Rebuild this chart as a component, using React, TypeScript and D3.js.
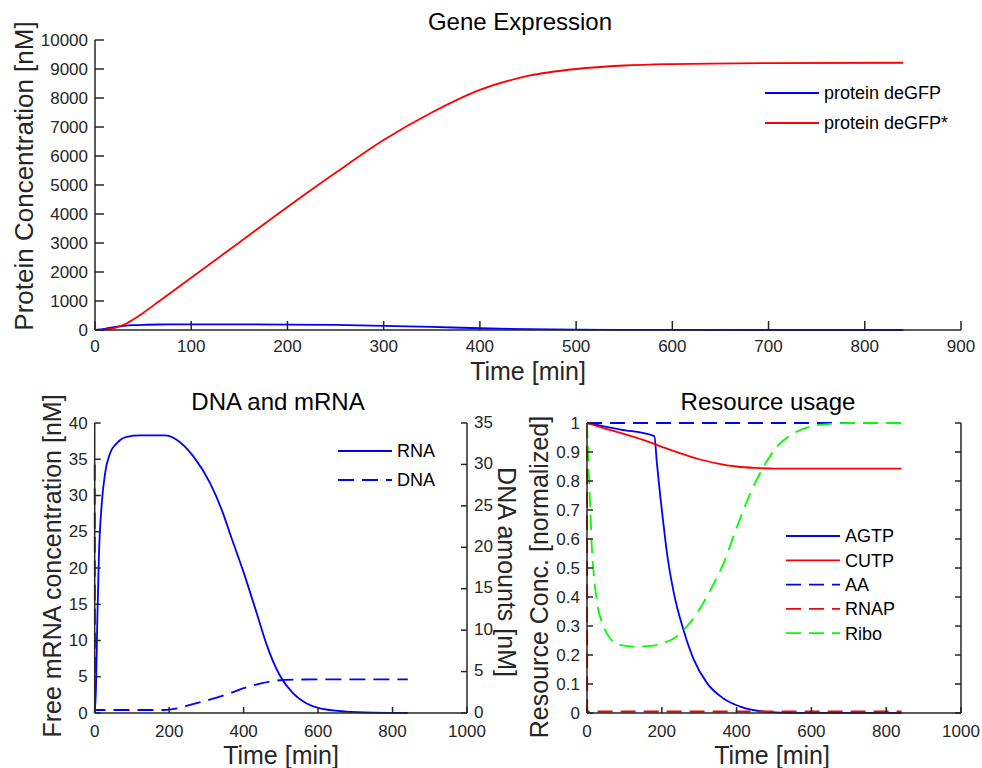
import React from 'react';
import * as d3 from 'd3';

const FONT = '"Liberation Sans", Arial, Helvetica, sans-serif';
const AX = '#262626';
const BLUE = '#0000ff';
const RED = '#ff0000';
const GREEN = '#00ff00';

// Gene Expression
const proteinTime = [0, 10, 20, 30, 40, 50, 67, 100, 150, 200, 250, 300, 350, 400, 450, 500, 550, 600, 700, 840];
const deGFP = [0, 40, 100, 140, 165, 180, 190, 195, 193, 188, 175, 145, 105, 60, 28, 10, 4, 1, 0, 0];
const deGFPStar = [0, 15, 65, 180, 370, 590, 1000, 1800, 3020, 4240, 5420, 6550, 7500, 8280, 8760, 9000, 9120, 9170, 9205, 9215];
const proteinXTicks = [0, 100, 200, 300, 400, 500, 600, 700, 800, 900];
const proteinYTicks = [0, 1000, 2000, 3000, 4000, 5000, 6000, 7000, 8000, 9000, 10000];

// DNA and mRNA
const rnaTime = [0, 3.5, 7, 11.5, 19, 28, 41, 59, 86, 122, 189, 220, 265, 310, 345, 363, 400, 435, 462, 497, 533, 568, 605, 676, 750, 841];
const rna = [0, 3.6, 12.8, 22, 28.9, 33.1, 35.8, 37.2, 38.1, 38.3, 38.3, 37.7, 35.4, 31.7, 27.5, 24.8, 19.4, 13.8, 9.4, 5.2, 2.7, 1.34, 0.64, 0.2, 0.05, 0];
const dnaTime = [0, 1, 100, 185, 220, 256, 300, 336, 370, 400, 450, 497, 550, 600, 700, 841];
const dna = [30, 0.36, 0.36, 0.36, 0.55, 0.97, 1.5, 1.97, 2.5, 3.0, 3.6, 3.95, 4.04, 4.06, 4.07, 4.07];
const timeTicks = [0, 200, 400, 600, 800, 1000];
const rnaTicks = [0, 5, 10, 15, 20, 25, 30, 35, 40];
const dnaTicks = [0, 5, 10, 15, 20, 25, 30, 35];

// Resource usage
const agtpTime = [0, 90, 180, 187, 196, 205, 214, 232, 258, 285, 321, 365, 410, 481, 550, 841];
const agtp = [1, 0.9775, 0.955, 0.86, 0.746, 0.645, 0.55, 0.415, 0.286, 0.186, 0.103, 0.05, 0.022, 0.004, 0.0005, 0];
const cutpTime = [0, 50, 100, 150, 200, 250, 300, 350, 400, 450, 500, 600, 841];
const cutp = [1, 0.98, 0.962, 0.942, 0.918, 0.895, 0.875, 0.86, 0.85, 0.845, 0.843, 0.843, 0.843];
const aaTime = [0, 841];
const aa = [1, 1];
const rnapTime = [0, 0.5, 841];
const rnap = [1, 0.005, 0.005];
const riboTime = [0, 4, 9, 13, 18, 27, 44, 62, 89, 133, 178, 200, 232, 258, 294, 330, 365, 401, 437, 472, 508, 552, 606, 650, 700, 841];
const ribo = [1, 0.85, 0.7, 0.57, 0.48, 0.38, 0.3, 0.257, 0.234, 0.229, 0.232, 0.24, 0.257, 0.286, 0.344, 0.424, 0.516, 0.642, 0.758, 0.849, 0.918, 0.964, 0.99, 0.997, 1, 1];
const resTicks = [0, 0.1, 0.2, 0.3, 0.4, 0.5, 0.6, 0.7, 0.8, 0.9, 1];

type Scale = d3.ScaleLinear<number, number>;

const makePath = (xs: number[], ys: number[], x: Scale, y: Scale) => {
  const pts: [number, number][] = xs.map((t, i) => [t, ys[i]]);
  return d3.line<[number, number]>()
    .x(d => x(d[0]))
    .y(d => y(d[1]))
    .curve(d3.curveMonotoneX)(pts) || '';
};

const XAxis = ({ x, y0, ticks, len, off = 22 }: { x: Scale; y0: number; ticks: number[]; len: number; off?: number }) => (
  <g>
    <line x1={x.range()[0]} x2={x.range()[1]} y1={y0} y2={y0} stroke={AX} strokeWidth={1.5} />
    {ticks.map(t => (
      <g key={t}>
        <line x1={x(t)} x2={x(t)} y1={y0} y2={y0 - len} stroke={AX} strokeWidth={1.5} />
        <text x={x(t)} y={y0 + off} textAnchor="middle" fontSize={17} fill={AX}>{t}</text>
      </g>
    ))}
  </g>
);

const YAxis = ({ y, x0, ticks, len, side, labels = true }: { y: Scale; x0: number; ticks: number[]; len: number; side: 'left' | 'right'; labels?: boolean }) => {
  const dir = side === 'left' ? 1 : -1;
  return (
    <g>
      <line x1={x0} x2={x0} y1={y.range()[0]} y2={y.range()[1]} stroke={AX} strokeWidth={1.5} />
      {ticks.map(t => (
        <g key={t}>
          <line x1={x0} x2={x0 + dir * len} y1={y(t)} y2={y(t)} stroke={AX} strokeWidth={1.5} />
          {labels && (
            <text x={x0 - dir * 7} y={y(t)} dy={side === 'left' ? '0.33em' : '0.28em'} textAnchor={side === 'left' ? 'end' : 'start'} fontSize={17} fill={AX}>{t}</text>
          )}
        </g>
      ))}
    </g>
  );
};

const Legend = ({ x, y, gap, items }: { x: number; y: number; gap: number; items: { label: string; color: string; dash?: string }[] }) => (
  <g>
    {items.map((it, i) => (
      <g key={it.label}>
        <line x1={x} x2={x + 54} y1={y + i * gap} y2={y + i * gap} stroke={it.color} strokeWidth={1.8} strokeDasharray={it.dash} />
        <text x={x + 59} y={y + i * gap} dy="0.35em" fontSize={18} fill="#000">{it.label}</text>
      </g>
    ))}
  </g>
);

export default function App() {
  const xTop = d3.scaleLinear().domain([0, 900]).range([95, 961]);
  const yTop = d3.scaleLinear().domain([0, 10000]).range([330, 40]);

  const xBL = d3.scaleLinear().domain([0, 1000]).range([94.7, 467]);
  const yRna = d3.scaleLinear().domain([0, 40]).range([713, 423]);
  const yDna = d3.scaleLinear().domain([0, 35]).range([713, 423]);

  const xBR = d3.scaleLinear().domain([0, 1000]).range([587, 961]);
  const yRes = d3.scaleLinear().domain([0, 1]).range([713, 423]);

  const dash = '15,8';

  return (
    <svg width={982} height={768} style={{ position: 'absolute', left: 0, top: 0, background: '#fff' }} fontFamily={FONT}>
      {/* Gene Expression */}
      <text x={520} y={30} textAnchor="middle" fontSize={24} fill="#000">Gene Expression</text>
      <path d={makePath(proteinTime, deGFP, xTop, yTop)} fill="none" stroke={BLUE} strokeWidth={1.8} />
      <path d={makePath(proteinTime, deGFPStar, xTop, yTop)} fill="none" stroke={RED} strokeWidth={1.8} />
      <XAxis x={xTop} y0={330} ticks={proteinXTicks} len={9} />
      <YAxis y={yTop} x0={95} ticks={proteinYTicks} len={9} side="left" />
      <text x={528} y={380} textAnchor="middle" fontSize={25} fill={AX}>Time [min]</text>
      <text transform="translate(33,176) rotate(-90)" textAnchor="middle" fontSize={26} fill={AX}>Protein Concentration [nM]</text>
      <Legend x={765} y={93} gap={30} items={[
        { label: 'protein deGFP', color: BLUE },
        { label: 'protein deGFP*', color: RED },
      ]} />

      {/* DNA and mRNA */}
      <text x={278} y={410} textAnchor="middle" fontSize={24} fill="#000">DNA and mRNA</text>
      <path d={makePath(rnaTime, rna, xBL, yRna)} fill="none" stroke={BLUE} strokeWidth={1.8} />
      <path d={makePath(dnaTime, dna, xBL, yDna)} fill="none" stroke={BLUE} strokeWidth={1.8} strokeDasharray="16,8" />
      <XAxis x={xBL} y0={713} ticks={timeTicks} len={6} off={24} />
      <YAxis y={yRna} x0={94.7} ticks={rnaTicks} len={6} side="left" />
      <YAxis y={yDna} x0={467} ticks={dnaTicks} len={6} side="right" />
      <text x={281} y={763.5} textAnchor="middle" fontSize={25} fill={AX}>Time [min]</text>
      <text transform="translate(61,566) rotate(-90)" textAnchor="middle" fontSize={25} fill={AX}>Free mRNA concentration [nM]</text>
      <text transform="translate(498,572) rotate(90)" textAnchor="middle" fontSize={25} fill={AX}>DNA amounts [nM]</text>
      <Legend x={338} y={451} gap={29} items={[
        { label: 'RNA', color: BLUE },
        { label: 'DNA', color: BLUE, dash: '16,8' },
      ]} />

      {/* Resource usage */}
      <text x={768} y={410} textAnchor="middle" fontSize={24} fill="#000">Resource usage</text>
      <path d={makePath(agtpTime, agtp, xBR, yRes)} fill="none" stroke={BLUE} strokeWidth={1.8} />
      <path d={makePath(cutpTime, cutp, xBR, yRes)} fill="none" stroke={RED} strokeWidth={1.8} />
      <path d={makePath(aaTime, aa, xBR, yRes)} fill="none" stroke={BLUE} strokeWidth={1.8} strokeDasharray={dash} />
      <path d={makePath(rnapTime, rnap, xBR, yRes)} fill="none" stroke={RED} strokeWidth={2} strokeDasharray={dash} />
      <path d={makePath(riboTime, ribo, xBR, yRes)} fill="none" stroke={GREEN} strokeWidth={1.8} strokeDasharray={dash} />
      <XAxis x={xBR} y0={713} ticks={timeTicks} len={6} off={24} />
      <YAxis y={yRes} x0={587} ticks={resTicks} len={6} side="left" />
      <YAxis y={yRes} x0={961} ticks={resTicks} len={6} side="right" labels={false} />
      <text x={772} y={763.5} textAnchor="middle" fontSize={25} fill={AX}>Time [min]</text>
      <text transform="translate(548,577) rotate(-90)" textAnchor="middle" fontSize={25} fill={AX}>Resource Conc. [normalized]</text>
      <Legend x={786} y={536} gap={24.3} items={[
        { label: 'AGTP', color: BLUE },
        { label: 'CUTP', color: RED },
        { label: 'AA', color: BLUE, dash },
        { label: 'RNAP', color: RED, dash },
        { label: 'Ribo', color: GREEN, dash },
      ]} />
    </svg>
  );
}
